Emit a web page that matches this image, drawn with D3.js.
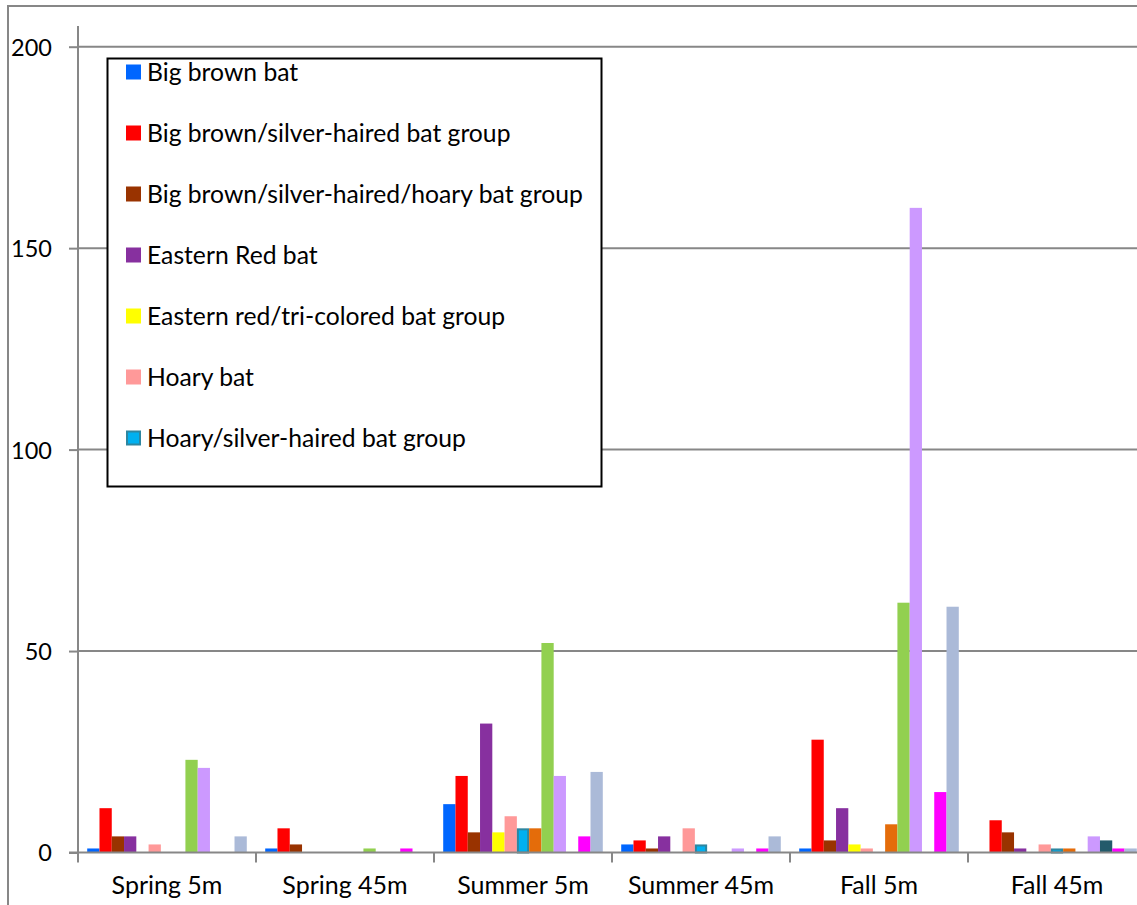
<!DOCTYPE html>
<html>
<head>
<meta charset="utf-8">
<script src="https://cdn.jsdelivr.net/npm/d3@7"></script>
<style>
  html, body { margin: 0; padding: 0; background: #fff; }
  svg { display: block; font-family: Lato, "Open Sans", sans-serif; }
</style>
</head>
<body>
<svg id="chart" width="1137" height="905"></svg>
<script>
// Survey periods along the x axis
const categories = ["Spring 5m", "Spring 45m", "Summer 5m", "Summer 45m", "Fall 5m", "Fall 45m"];

// Detection counts per species / group, one value per survey period
const bigBrown            = [1, 1, 12, 2, 1, 0];
const bigBrownSilver      = [11, 6, 19, 3, 28, 8];
const bigBrownSilverHoary = [4, 2, 5, 1, 3, 5];
const easternRed          = [4, 0, 32, 4, 11, 1];
const easternRedTri       = [0, 0, 5, 0, 2, 0];
const hoary               = [2, 0, 9, 6, 1, 2];
const hoarySilver         = [0, 0, 6, 2, 0, 1];
const littleBrown         = [0, 0, 6, 0, 7, 1];
const lowFrequency        = [23, 1, 52, 0, 62, 0];
const silverHaired        = [21, 0, 19, 1, 160, 4];
const myotisGroup         = [0, 0, 0, 0, 0, 3];
const triColored          = [0, 1, 4, 1, 15, 1];
const unknownBat          = [4, 0, 20, 4, 61, 1];

const seriesNames = [
  "Big brown bat",
  "Big brown/silver-haired bat group",
  "Big brown/silver-haired/hoary bat group",
  "Eastern Red bat",
  "Eastern red/tri-colored bat group",
  "Hoary bat",
  "Hoary/silver-haired bat group",
  "Little brown bat",
  "Low frequency bat group",
  "Silver-haired bat",
  "Myotis bat group",
  "Tri-colored bat",
  "Unknown bat"
];
const seriesValues = [bigBrown, bigBrownSilver, bigBrownSilverHoary, easternRed, easternRedTri,
  hoary, hoarySilver, littleBrown, lowFrequency, silverHaired, myotisGroup, triColored, unknownBat];

const seriesColors = ["#0066FF", "#FF0000", "#993300", "#87309F", "#FFFF00", "#FF9999", "#00B0F0",
  "#E46C0A", "#92D050", "#CC99FF", "#235A6B", "#FF00FF", "#ABBAD8"];
const seriesStrokes = [null, null, null, null, null, null, "#2E86A0",
  null, null, null, null, null, null];

const yTicks = [0, 50, 100, 150, 200];
const legendCount = 7; // the legend box only has room for the first seven entries

const svg = d3.select("#chart");
const axisColor = "#878787";

const x0 = 78, plotTop = 26;
const catStep = 178;
const y = d3.scaleLinear().domain([0, 200]).range([852.5, 46.7]);

const xCat = d3.scaleBand().domain(categories)
  .range([x0, x0 + catStep * categories.length]).padding(0);
const xSeries = d3.scaleBand().domain(d3.range(seriesNames.length))
  .range([0, xCat.bandwidth()]).paddingInner(0).paddingOuter(0.75);

// outer chart frame
svg.append("rect")
  .attr("x", 8).attr("y", 6).attr("width", 1200).attr("height", 1000)
  .attr("fill", "#fff").attr("stroke", axisColor).attr("stroke-width", 2);

// horizontal gridlines
svg.append("g").selectAll("line")
  .data(yTicks.filter(d => d > 0))
  .join("line")
  .attr("x1", x0).attr("x2", 1137)
  .attr("y1", d => y(d)).attr("y2", d => y(d))
  .attr("stroke", axisColor).attr("stroke-width", 2);

// bars
const groups = svg.append("g").selectAll("g")
  .data(seriesValues.map((vals, i) => ({ i, vals })))
  .join("g")
  .attr("fill", d => seriesColors[d.i])
  .attr("stroke", d => seriesStrokes[d.i] || "none")
  .attr("stroke-width", 2);

groups.selectAll("rect")
  .data(d => d.vals.map((v, c) => ({ v, c, i: d.i })).filter(e => e.v > 0))
  .join("rect")
  .attr("x", e => xCat(categories[e.c]) + xSeries(e.i) + (seriesStrokes[e.i] ? 1 : 0))
  .attr("width", e => xSeries.bandwidth() - (seriesStrokes[e.i] ? 2 : 0))
  .attr("y", e => y(e.v) + (seriesStrokes[e.i] ? 1 : 0))
  .attr("height", e => y(0) - y(e.v) - (seriesStrokes[e.i] ? 1 : 0));

// y axis
const yAxis = d3.axisLeft(y).tickValues(yTicks).tickSize(9).tickPadding(17);
const gy = svg.append("g").attr("transform", `translate(${x0},0)`).call(yAxis);
gy.select(".domain").remove();
gy.append("line").attr("x1", 0).attr("x2", 0).attr("y1", plotTop).attr("y2", 862)
  .attr("stroke", axisColor).attr("stroke-width", 2);
gy.selectAll(".tick line").attr("stroke", axisColor).attr("stroke-width", 2);
gy.selectAll(".tick text").attr("fill", "#000").attr("font-size", 23.5)
  .attr("font-family", "Lato, sans-serif").attr("dy", "0.36em");

// x axis
const xAxis = d3.axisBottom(xCat).tickSize(0).tickPadding(24);
const gx = svg.append("g").attr("transform", `translate(0,${y(0)})`).call(xAxis);
gx.select(".domain").remove();
gx.append("line").attr("x1", x0 - 9).attr("x2", 1137).attr("y1", 0).attr("y2", 0)
  .attr("stroke", axisColor).attr("stroke-width", 2);
gx.selectAll(".tick text").attr("fill", "#000").attr("font-size", 25)
  .attr("font-family", "Lato, sans-serif");
// category boundary ticks
gx.append("g").selectAll("line")
  .data(categories.map(c => xCat(c)).concat([x0 + catStep * categories.length]))
  .join("line")
  .attr("x1", d => d).attr("x2", d => d).attr("y1", 0).attr("y2", 10)
  .attr("stroke", axisColor).attr("stroke-width", 2);

// legend
const legend = svg.append("g");
legend.append("rect")
  .attr("x", 107.5).attr("y", 58.5).attr("width", 494).attr("height", 428)
  .attr("fill", "#fff").attr("stroke", "#000").attr("stroke-width", 2);
const items = legend.selectAll("g.item")
  .data(seriesNames.slice(0, legendCount).map((n, i) => ({ n, i })))
  .join("g").attr("class", "item")
  .attr("transform", d => `translate(126,${72 + d.i * 61})`);
items.append("rect")
  .attr("x", d => seriesStrokes[d.i] ? 1 : 0)
  .attr("y", d => -7.5 + (seriesStrokes[d.i] ? 1 : 0))
  .attr("width", d => seriesStrokes[d.i] ? 13 : 15)
  .attr("height", d => seriesStrokes[d.i] ? 13 : 15)
  .attr("fill", d => seriesColors[d.i])
  .attr("stroke", d => seriesStrokes[d.i] || "none")
  .attr("stroke-width", 2);
items.append("text")
  .attr("x", 21).attr("y", 0).attr("dy", "0.36em")
  .attr("font-size", 24.7).attr("fill", "#000")
  .text(d => d.n);
</script>
</body>
</html>
